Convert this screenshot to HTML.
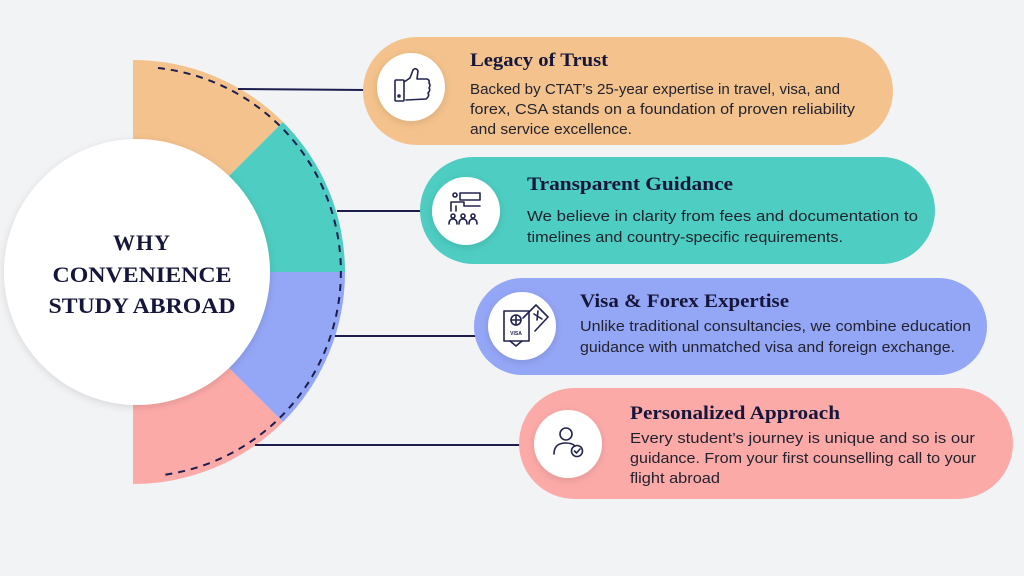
<!DOCTYPE html>
<html><head><meta charset="utf-8"><style>
html,body{margin:0;padding:0;background:#f2f3f5;width:1024px;height:576px;overflow:hidden}
svg{display:block}
.t{font-family:"Liberation Serif",serif;font-weight:bold;fill:#15163a}
.b{font-family:"Liberation Sans",sans-serif;font-size:15px;fill:#22232e}
.i{fill:none;stroke:#23244f;stroke-width:1.6;stroke-linejoin:round;stroke-linecap:round}
</style></head><body>
<svg width="1024" height="576" viewBox="0 0 1024 576">
<defs>
<filter id="sh" x="-30%" y="-30%" width="160%" height="160%"><feDropShadow dx="0" dy="2" stdDeviation="4" flood-color="#000" flood-opacity="0.12"/></filter>
</defs>
<rect width="1024" height="576" fill="#f2f3f5"/>
<!-- sectors -->
<path d="M133 272 L133 60 A212 212 0 0 1 283 122 Z" fill="#f4c28c"/>
<path d="M133 272 L283 122 A212 212 0 0 1 345 272 Z" fill="#4ecdc2"/>
<path d="M133 272 L345 272 A212 212 0 0 1 283 422 Z" fill="#94a6f6"/>
<path d="M133 272 L283 422 A212 212 0 0 1 133 484 Z" fill="#fcaaa8"/>
<path d="M158 68 A205 205 0 0 1 163 475" fill="none" stroke="#1c1d4e" stroke-width="2" stroke-dasharray="7 6"/>
<!-- connectors -->
<g stroke="#1c1d4e" stroke-width="2">
<line x1="238" y1="89" x2="366" y2="90"/>
<line x1="337" y1="211" x2="425" y2="211"/>
<line x1="335" y1="336" x2="478" y2="336"/>
<line x1="255" y1="445" x2="522" y2="445"/>
</g>
<!-- center circle -->
<circle cx="137" cy="272" r="133" fill="#fff" filter="url(#sh)"/>
<text class="t" x="142" y="250" font-size="22" text-anchor="middle" letter-spacing="1">WHY</text>
<text class="t" x="142" y="282" font-size="22" text-anchor="middle" textLength="179" lengthAdjust="spacingAndGlyphs">CONVENIENCE</text>
<text class="t" x="142" y="313" font-size="22" text-anchor="middle" textLength="187" lengthAdjust="spacingAndGlyphs">STUDY ABROAD</text>
<!-- pills -->
<rect x="363" y="37" width="530" height="108" rx="54" fill="#f4c28c"/>
<rect x="420" y="157" width="515" height="107" rx="53.5" fill="#4ecdc2"/>
<rect x="474" y="278" width="513" height="97" rx="48.5" fill="#94a6f6"/>
<rect x="519" y="388" width="494" height="111" rx="55.5" fill="#fcaaa8"/>
<circle cx="411" cy="87" r="34" fill="#fff" filter="url(#sh)"/>
<circle cx="466" cy="211" r="34" fill="#fff" filter="url(#sh)"/>
<circle cx="522" cy="326" r="34" fill="#fff" filter="url(#sh)"/>
<circle cx="568" cy="444" r="34" fill="#fff" filter="url(#sh)"/>
<!-- icons -->
<g class="i">
<rect x="395" y="80" width="9" height="21" rx="1"/>
<circle cx="399" cy="96" r="1"/>
<path d="M404 82 L410 78 L413 70 Q416 67 418 71 L417 79 L427 79 Q430 80 429 83 Q431 85 429 88 Q431 90 428 93 Q430 96 426 99 L406 100"/>
</g>
<g class="i">
<circle cx="455" cy="195" r="2"/>
<rect x="460" y="193" width="20" height="7"/>
<path d="M451 211 L451 202 L464 202 L464 206 L480 206 M456 206 L456 211"/>
<circle cx="453" cy="216" r="2"/><circle cx="463" cy="216" r="2"/><circle cx="473" cy="216" r="2"/>
<path d="M449 224 Q449 219 453 219 Q457 219 457 224 M459 224 Q459 219 463 219 Q467 219 467 224 M469 224 Q469 219 473 219 Q477 219 477 224"/>
</g>
<g class="i" stroke-width="1.3">
<path d="M523 318 L536 305 L548 317 L535 331"/>
<path d="M534 314 L542 319 M538 311 L537 320"/>
<rect x="504" y="311" width="25" height="30"/>
<path d="M510 341 L516 346 L522 341"/>
<circle cx="516" cy="320" r="5"/><path d="M511 320 L521 320 M516 315 L516 325"/>
</g>
<text x="516" y="335" font-family="Liberation Sans,sans-serif" font-size="5" font-weight="bold" fill="#23244f" text-anchor="middle">VISA</text>
<g class="i">
<circle cx="566" cy="434" r="6"/>
<path d="M554 454 Q554 443 566 443 Q572 443 575 446"/>
<circle cx="577" cy="451" r="5.5"/><path d="M574.5 451 L576.5 453 L580 449"/>
</g>
<!-- titles -->
<text class="t" x="470" y="66" font-size="19" textLength="138" lengthAdjust="spacingAndGlyphs">Legacy of Trust</text>
<text class="t" x="527" y="190" font-size="19" textLength="206" lengthAdjust="spacingAndGlyphs">Transparent Guidance</text>
<text class="t" x="580" y="307" font-size="19" textLength="209" lengthAdjust="spacingAndGlyphs">Visa &amp; Forex Expertise</text>
<text class="t" x="630" y="419" font-size="19" textLength="210" lengthAdjust="spacingAndGlyphs">Personalized Approach</text>
<!-- bodies -->
<text class="b" x="470" y="94" textLength="370" lengthAdjust="spacingAndGlyphs">Backed by CTAT’s 25-year expertise in travel, visa, and</text>
<text class="b" x="470" y="114" textLength="385" lengthAdjust="spacingAndGlyphs">forex, CSA stands on a foundation of proven reliability</text>
<text class="b" x="470" y="134" textLength="162" lengthAdjust="spacingAndGlyphs">and service excellence.</text>
<text class="b" x="527" y="221" textLength="391" lengthAdjust="spacingAndGlyphs">We believe in clarity from fees and documentation to</text>
<text class="b" x="527" y="242" textLength="316" lengthAdjust="spacingAndGlyphs">timelines and country-specific requirements.</text>
<text class="b" x="580" y="331" textLength="391" lengthAdjust="spacingAndGlyphs">Unlike traditional consultancies, we combine education</text>
<text class="b" x="580" y="352" textLength="375" lengthAdjust="spacingAndGlyphs">guidance with unmatched visa and foreign exchange.</text>
<text class="b" x="630" y="443" textLength="345" lengthAdjust="spacingAndGlyphs">Every student’s journey is unique and so is our</text>
<text class="b" x="630" y="463" textLength="346" lengthAdjust="spacingAndGlyphs">guidance. From your first counselling call to your</text>
<text class="b" x="630" y="483" textLength="90" lengthAdjust="spacingAndGlyphs">flight abroad</text>
</svg>
</body></html>
